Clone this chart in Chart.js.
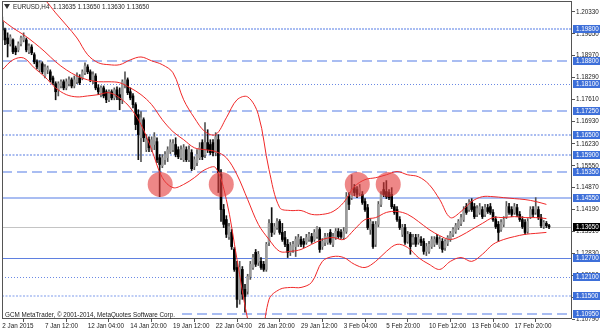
<!DOCTYPE html>
<html><head><meta charset="utf-8">
<script src="https://cdn.jsdelivr.net/npm/chart.js@4.4.1/dist/chart.umd.min.js"></script>
<style>html,body{margin:0;padding:0;background:#fff;overflow:hidden}canvas{display:block}</style>
</head><body>
<canvas id="c" width="600" height="333"></canvas>
<script>
// ---------------- DATA ----------------
const symbolTitle = 'EURUSD,H4';
const titleQuotes = ['1.13635', '1.13650', '1.13630', '1.13650'];
const watermark = 'GCM MetaTrader, \u00A9 2001-2014, MetaQuotes Software Corp.';

const timeLabels = ['2 Jan 2015','7 Jan 12:00','12 Jan 04:00','14 Jan 20:00','19 Jan 12:00','22 Jan 04:00','26 Jan 20:00','29 Jan 12:00','3 Feb 04:00','5 Feb 20:00','10 Feb 12:00','13 Feb 04:00','17 Feb 20:00'];
const timeLabelBars = [0,16,32,48,64,80,96,112,128,144,160,176,192];

const priceTicks = [1.2033,1.1965,1.1897,1.1829,1.1761,1.1693,1.1623,1.1555,1.1487,1.1419,1.1351,1.1283,1.1215,1.1147,1.1079];

const levels = [1.1980,1.1880,1.1810,1.1725,1.1650,1.1590,1.1535,1.1455,1.1270,1.1210,1.1150,1.1095];
const lastPrice = 1.1365;

const opens = [1.2002,1.1977,1.1952,1.1934,1.1946,1.1921,1.1915,1.1934,1.1946,1.1946,
1.1909,1.1924,1.1900,1.1878,1.1853,1.1872,1.1834,1.1853,1.1847,1.1828,
1.1810,1.1791,1.1803,1.1816,1.1797,1.1810,1.1822,1.1803,1.1816,1.1828,
1.1828,1.1844,1.1862,1.1847,1.1822,1.1834,1.1797,1.1776,1.1797,1.1785,
1.1760,1.1785,1.1766,1.1791,1.1776,1.1760,1.1807,1.1822,1.1785,1.1772,
1.1745,1.1714,1.1642,1.1698,1.1605,1.1636,1.1605,1.1621,1.1630,1.1580,
1.1555,1.1574,1.1580,1.1599,1.1605,1.1621,1.1605,1.1580,1.1574,1.1605,
1.1574,1.1596,1.1552,1.1565,1.1580,1.1627,1.1590,1.1627,1.1621,1.1627,
1.1596,1.1636,1.1528,1.1419,1.1388,1.1335,1.1348,1.1295,1.1239,1.1140,
1.1233,1.1171,1.1165,1.1211,1.1239,1.1286,1.1255,1.1258,1.1249,1.1233,
1.1317,1.1376,1.1348,1.1363,1.1382,1.1348,1.1332,1.1311,1.1286,1.1295,
1.1304,1.1311,1.1326,1.1320,1.1317,1.1326,1.1335,1.1326,1.1335,1.1357,
1.1304,1.1317,1.1317,1.1348,1.1311,1.1332,1.1351,1.1348,1.1332,1.1351,
1.1459,1.1456,1.1487,1.1481,1.1472,1.1466,1.1444,1.1425,1.1357,1.1373,
1.1311,1.1373,1.1435,1.1481,1.1475,1.1472,1.1466,1.1428,1.1419,1.1388,
1.1342,1.1363,1.1320,1.1342,1.1317,1.1332,1.1317,1.1326,1.1320,1.1289,
1.1289,1.1304,1.1311,1.1332,1.1304,1.1320,1.1301,1.1314,1.1326,1.1342,
1.1351,1.1363,1.1376,1.1388,1.1428,1.1419,1.1444,1.1428,1.1404,1.1410,
1.1419,1.1404,1.1425,1.1428,1.1410,1.1388,1.1373,1.1357,1.1373,1.1397,
1.1428,1.1419,1.1410,1.1425,1.1404,1.1388,1.1379,1.1351,1.1397,1.1419,
1.1410,1.1419,1.1394,1.1366,1.1376,1.1369];

const highs = [1.2017,1.1983,1.1968,1.1962,1.1949,1.1927,1.1940,1.1958,1.1968,1.1952,
1.1934,1.1931,1.1906,1.1884,1.1881,1.1878,1.1869,1.1865,1.1853,1.1834,
1.1816,1.1816,1.1822,1.1822,1.1825,1.1831,1.1828,1.1834,1.1844,1.1838,
1.1853,1.1875,1.1869,1.1853,1.1847,1.1841,1.1807,1.1803,1.1803,1.1791,
1.1791,1.1791,1.1797,1.1800,1.1797,1.1822,1.1847,1.1828,1.1797,1.1779,
1.1751,1.1729,1.1723,1.1704,1.1652,1.1645,1.1645,1.1658,1.1642,1.1590,
1.1590,1.1599,1.1614,1.1636,1.1636,1.1642,1.1614,1.1617,1.1621,1.1614,
1.1617,1.1605,1.1583,1.1605,1.1627,1.1636,1.1689,1.1667,1.1636,1.1636,
1.1658,1.1652,1.1543,1.1435,1.1400,1.1376,1.1357,1.1301,1.1258,1.1258,
1.1242,1.1187,1.1218,1.1258,1.1280,1.1295,1.1289,1.1270,1.1258,1.1317,
1.1388,1.1425,1.1376,1.1391,1.1388,1.1376,1.1351,1.1326,1.1317,1.1320,
1.1335,1.1342,1.1335,1.1329,1.1342,1.1348,1.1345,1.1357,1.1366,1.1363,
1.1329,1.1345,1.1345,1.1357,1.1345,1.1360,1.1360,1.1357,1.1363,1.1472,
1.1472,1.1527,1.1497,1.1490,1.1497,1.1475,1.1453,1.1435,1.1391,1.1382,
1.1382,1.1444,1.1475,1.1503,1.1509,1.1481,1.1487,1.1435,1.1428,1.1397,
1.1373,1.1373,1.1351,1.1348,1.1342,1.1342,1.1342,1.1335,1.1329,1.1314,
1.1320,1.1335,1.1335,1.1342,1.1335,1.1329,1.1326,1.1338,1.1351,1.1363,
1.1376,1.1388,1.1404,1.1428,1.1438,1.1450,1.1453,1.1438,1.1431,1.1438,
1.1428,1.1435,1.1435,1.1438,1.1419,1.1397,1.1382,1.1388,1.1397,1.1444,
1.1438,1.1428,1.1438,1.1435,1.1413,1.1397,1.1388,1.1391,1.1428,1.1428,
1.1456,1.1428,1.1404,1.1385,1.1382,1.1373];

const lows = [1.1962,1.1931,1.1893,1.1927,1.1903,1.1900,1.1909,1.1927,1.1940,1.1909,
1.1903,1.1900,1.1872,1.1856,1.1847,1.1841,1.1828,1.1841,1.1816,1.1807,
1.1760,1.1772,1.1797,1.1791,1.1791,1.1803,1.1797,1.1797,1.1810,1.1807,
1.1822,1.1838,1.1841,1.1816,1.1810,1.1791,1.1776,1.1769,1.1766,1.1751,
1.1754,1.1760,1.1760,1.1760,1.1729,1.1748,1.1797,1.1776,1.1760,1.1735,
1.1667,1.1574,1.1568,1.1630,1.1599,1.1599,1.1599,1.1605,1.1565,1.1459,
1.1549,1.1559,1.1568,1.1593,1.1599,1.1583,1.1577,1.1574,1.1568,1.1568,
1.1568,1.1540,1.1543,1.1555,1.1574,1.1574,1.1580,1.1596,1.1590,1.1586,
1.1586,1.1472,1.1382,1.1363,1.1332,1.1326,1.1295,1.1227,1.1115,1.1125,
1.1140,1.1100,1.1156,1.1202,1.1233,1.1242,1.1245,1.1233,1.1227,1.1227,
1.1307,1.1335,1.1342,1.1357,1.1342,1.1320,1.1304,1.1270,1.1276,1.1286,
1.1273,1.1304,1.1304,1.1301,1.1311,1.1320,1.1314,1.1320,1.1329,1.1286,
1.1295,1.1307,1.1311,1.1311,1.1304,1.1326,1.1329,1.1329,1.1326,1.1345,
1.1419,1.1450,1.1462,1.1456,1.1462,1.1435,1.1413,1.1357,1.1342,1.1298,
1.1304,1.1366,1.1428,1.1459,1.1453,1.1450,1.1422,1.1404,1.1382,1.1357,
1.1335,1.1311,1.1314,1.1280,1.1311,1.1304,1.1311,1.1307,1.1280,1.1276,
1.1283,1.1298,1.1304,1.1311,1.1298,1.1286,1.1292,1.1307,1.1320,1.1335,
1.1345,1.1357,1.1369,1.1382,1.1404,1.1413,1.1413,1.1391,1.1397,1.1404,
1.1391,1.1397,1.1407,1.1404,1.1382,1.1360,1.1320,1.1351,1.1366,1.1391,
1.1404,1.1397,1.1404,1.1397,1.1382,1.1360,1.1342,1.1345,1.1391,1.1397,
1.1404,1.1388,1.1363,1.1360,1.1363,1.1360];

const closes = [1.1977,1.1946,1.1934,1.1955,1.1909,1.1909,1.1934,1.1952,1.1955,1.1915,
1.1927,1.1906,1.1878,1.1862,1.1875,1.1847,1.1862,1.1859,1.1822,1.1813,
1.1785,1.1810,1.1816,1.1797,1.1816,1.1822,1.1803,1.1822,1.1831,1.1813,
1.1847,1.1865,1.1847,1.1822,1.1838,1.1797,1.1785,1.1797,1.1772,1.1760,
1.1785,1.1766,1.1791,1.1769,1.1760,1.1816,1.1822,1.1782,1.1766,1.1745,
1.1683,1.1652,1.1704,1.1642,1.1636,1.1611,1.1636,1.1645,1.1574,1.1559,
1.1580,1.1590,1.1605,1.1627,1.1624,1.1590,1.1583,1.1605,1.1611,1.1574,
1.1605,1.1546,1.1574,1.1590,1.1611,1.1583,1.1627,1.1605,1.1596,1.1596,
1.1645,1.1534,1.1419,1.1373,1.1342,1.1366,1.1304,1.1233,1.1140,1.1239,
1.1156,1.1149,1.1211,1.1249,1.1270,1.1249,1.1280,1.1239,1.1233,1.1311,
1.1376,1.1348,1.1366,1.1382,1.1348,1.1326,1.1311,1.1286,1.1307,1.1311,
1.1326,1.1332,1.1311,1.1311,1.1332,1.1342,1.1320,1.1348,1.1363,1.1295,
1.1320,1.1335,1.1335,1.1317,1.1335,1.1351,1.1335,1.1335,1.1351,1.1459,
1.1435,1.1481,1.1472,1.1466,1.1487,1.1441,1.1419,1.1363,1.1382,1.1304,
1.1373,1.1435,1.1466,1.1466,1.1459,1.1456,1.1428,1.1410,1.1388,1.1363,
1.1363,1.1317,1.1342,1.1304,1.1332,1.1311,1.1332,1.1317,1.1289,1.1304,
1.1311,1.1326,1.1326,1.1317,1.1326,1.1295,1.1320,1.1332,1.1345,1.1357,
1.1369,1.1382,1.1394,1.1419,1.1410,1.1441,1.1419,1.1397,1.1422,1.1428,
1.1397,1.1425,1.1413,1.1410,1.1388,1.1366,1.1348,1.1379,1.1388,1.1428,
1.1410,1.1404,1.1428,1.1404,1.1388,1.1366,1.1348,1.1382,1.1419,1.1404,
1.1428,1.1394,1.1369,1.1379,1.1369,1.1365];

// Bollinger bands read at every 4th bar
const bandBars = [0,4,8,12,16,20,24,28,32,36,40,44,48,52,56,60,64,68,72,76,80,84,88,92,96,100,104,108,112,116,120,124,128,132,136,140,144,148,152,156,160,164,168,172,176,180,184,188,192,196,200,204];
const bandUpper = [1.2194,1.2163,1.2126,1.2095,1.2070,1.2030,1.1992,1.1952,1.1900,1.1875,1.1869,1.1869,1.1884,1.1893,1.1881,1.1869,1.1844,1.1760,1.1704,1.1661,1.1652,1.1704,1.1760,1.1769,1.1714,1.1543,1.1425,1.1416,1.1416,1.1404,1.1404,1.1413,1.1441,1.1490,1.1512,1.1518,1.1527,1.1537,1.1527,1.1521,1.1497,1.1450,1.1394,1.1413,1.1444,1.1459,1.1459,1.1456,1.1453,1.1450,1.1444,1.1435];
const bandMiddle = [1.2008,1.1983,1.1962,1.1937,1.1909,1.1878,1.1853,1.1834,1.1822,1.1816,1.1816,1.1813,1.1797,1.1776,1.1745,1.1698,1.1661,1.1636,1.1611,1.1605,1.1599,1.1580,1.1527,1.1450,1.1373,1.1326,1.1289,1.1289,1.1295,1.1311,1.1326,1.1332,1.1326,1.1357,1.1388,1.1394,1.1410,1.1413,1.1404,1.1382,1.1357,1.1338,1.1326,1.1338,1.1357,1.1376,1.1394,1.1394,1.1397,1.1394,1.1394,1.1391];
const bandLower = [1.1853,1.1884,1.1890,1.1859,1.1831,1.1797,1.1776,1.1769,1.1772,1.1776,1.1782,1.1766,1.1735,1.1683,1.1605,1.1518,1.1487,1.1497,1.1518,1.1543,1.1549,1.1450,1.1264,1.1078,1.0954,1.1140,1.1171,1.1177,1.1177,1.1193,1.1258,1.1273,1.1270,1.1249,1.1239,1.1258,1.1289,1.1311,1.1301,1.1270,1.1249,1.1233,1.1258,1.1270,1.1258,1.1280,1.1311,1.1326,1.1335,1.1342,1.1345,1.1348];

// highlighted touches (circles)
const markBars = [59.2, 82.1, 133.1, 144.7];
const markPrices = [1.1497, 1.1497, 1.1497, 1.1497];

// ---------------- STYLE ----------------
const FONT = '"Liberation Sans", Arial, sans-serif';
const FS = 6.3;
const LIGHT = '#a9bdf2', MID = '#8da6ec', DARK = '#6a89e4';
const levelStyles = [
  {c: LIGHT, w: 2, d: [2, 1]},
  {c: LIGHT, w: 2, d: [10, 5]},
  {c: DARK, w: 1, d: [1, 2]},
  {c: LIGHT, w: 2, d: [10, 5]},
  {c: MID, w: 1.5, d: [2, 1.5]},
  {c: MID, w: 1.5, d: [2, 1.5]},
  {c: LIGHT, w: 2, d: [10, 5]},
  {c: LIGHT, w: 2, d: []},
  {c: '#5f80e0', w: 1, d: []},
  {c: DARK, w: 1, d: [1, 2]},
  {c: LIGHT, w: 1.5, d: [2, 1.5]},
  {c: LIGHT, w: 2, d: [10, 5]}
];

const levelPlugin = {
  id: 'levels',
  beforeDatasetsDraw(chart) {
    const {ctx, chartArea: a, scales: {y}} = chart;
    ctx.save();
    ctx.beginPath(); ctx.rect(a.left, a.top, a.right - a.left, a.bottom - a.top); ctx.clip();
    let py = Math.round(y.getPixelForValue(lastPrice)) + 0.5;
    ctx.strokeStyle = '#c4c4c4'; ctx.lineWidth = 1; ctx.setLineDash([]);
    ctx.beginPath(); ctx.moveTo(a.left, py); ctx.lineTo(a.right, py); ctx.stroke();
    levels.forEach((v, k) => {
      const s = levelStyles[k];
      let p = y.getPixelForValue(v);
      p = s.w % 2 === 1 ? Math.round(p) + 0.5 : Math.round(p);
      ctx.strokeStyle = s.c; ctx.lineWidth = s.w; ctx.setLineDash(s.d);
      ctx.beginPath(); ctx.moveTo(a.left, p); ctx.lineTo(a.right, p); ctx.stroke();
    });
    ctx.restore();
  },
  afterDraw(chart) {
    const {ctx, chartArea: a, scales: {y}} = chart;
    ctx.save();
    ctx.setLineDash([]);
    ctx.strokeStyle = '#555'; ctx.lineWidth = 1;
    ctx.strokeRect(Math.round(a.left) + 0.5, Math.round(a.top) + 0.5, Math.round(a.right - a.left) - 1, Math.round(a.bottom - a.top) - 1);
    ctx.font = FS + 'px ' + FONT;
    ctx.textBaseline = 'middle';
    const box = (v, bg) => {
      const p = Math.round(y.getPixelForValue(v));
      ctx.fillStyle = bg;
      ctx.fillRect(a.right + 1, p - 4, 600 - a.right - 1, 8);
      ctx.fillStyle = '#fff';
      ctx.textAlign = 'left';
      ctx.fillText(v.toFixed(5), a.right + 4, p + 0.5);
    };
    levels.forEach(v => box(v, '#3d6fd9'));
    box(lastPrice, '#000');
    ctx.fillStyle = '#333';
    ctx.beginPath(); ctx.moveTo(a.left + 2, 4); ctx.lineTo(a.left + 8, 4); ctx.lineTo(a.left + 5, 9); ctx.closePath(); ctx.fill();
    ctx.fillStyle = '#222';
    ctx.textAlign = 'left';
    ctx.fillText(symbolTitle + '  ' + titleQuotes.join(' '), a.left + 11, 7);
    const wm = watermark;
    const w = ctx.measureText(wm).width;
    ctx.fillStyle = '#fff';
    ctx.fillRect(a.left + 1, a.bottom - 8, w + 4, 7);
    ctx.fillStyle = '#222';
    ctx.fillText(wm, a.left + 3, a.bottom - 4);
    ctx.restore();
  }
};

// ---------------- CHART ----------------
const idx = opens.map((_, i) => i);
const bullC = '#9b9b9b', bearC = '#000';
const noPad = s => { s.paddingLeft = 0; s.paddingRight = 0; s.paddingTop = 0; s.paddingBottom = 0; };
new Chart(document.getElementById('c'), {
  type: 'bar',
  data: {
    datasets: [
      {type: 'line', data: markBars.map((b, k) => ({x: b, y: markPrices[k]})), showLine: false, clip: 0,
       pointRadius: 12.5, pointBackgroundColor: 'rgba(228,62,62,0.62)', pointBorderWidth: 0, order: 0},
      {type: 'line', data: bandBars.map((b, k) => ({x: b, y: bandUpper[k]})), borderColor: '#f02828', borderWidth: 1, pointRadius: 0, tension: 0.35, order: 1},
      {type: 'line', data: bandBars.map((b, k) => ({x: b, y: bandMiddle[k]})), borderColor: '#f02828', borderWidth: 1, pointRadius: 0, tension: 0.35, order: 1},
      {type: 'line', data: bandBars.map((b, k) => ({x: b, y: bandLower[k]})), borderColor: '#f02828', borderWidth: 1, pointRadius: 0, tension: 0.35, order: 1},
      {type: 'bar', data: idx.map(i => ({x: i, y: [opens[i], closes[i]]})), grouped: false, barThickness: 2, minBarLength: 1,
       backgroundColor: idx.map(i => closes[i] >= opens[i] ? bullC : bearC), borderWidth: 0, order: 2},
      {type: 'bar', data: idx.map(i => ({x: i, y: [lows[i], highs[i]]})), grouped: false, barThickness: 1,
       backgroundColor: idx.map(i => closes[i] >= opens[i] ? '#555' : '#111'), borderWidth: 0, order: 3}
    ]
  },
  options: {
    responsive: false, animation: false, devicePixelRatio: 1, events: [],
    layout: {autoPadding: false, padding: {left: 2, top: 1, right: 0, bottom: 0}},
    plugins: {legend: {display: false}, tooltip: {enabled: false}},
    scales: {
      x: {
        type: 'linear', min: -0.11, max: 213.6, offset: false,
        border: {display: false},
        grid: {drawOnChartArea: false, drawTicks: true, tickLength: 3, color: '#555'},
        afterBuildTicks: s => { s.ticks = timeLabelBars.map(v => ({value: v})); },
        afterFit: s => { s.height = 14; noPad(s); },
        ticks: {autoSkip: false, maxRotation: 0, minRotation: 0, align: 'start', padding: 0,
                font: {family: FONT, size: FS}, color: '#222',
                callback: (v, i) => timeLabels[i]}
      },
      y: {
        type: 'linear', position: 'right', min: 1.10790, max: 1.20669,
        border: {display: false},
        grid: {drawOnChartArea: false, drawTicks: true, tickLength: 3, color: '#555'},
        afterBuildTicks: s => { s.ticks = priceTicks.map(v => ({value: v})); },
        afterFit: s => { s.width = 28; noPad(s); },
        ticks: {autoSkip: false, padding: 1, font: {family: FONT, size: FS}, color: '#222',
                callback: v => v.toFixed(5)}
      }
    }
  },
  plugins: [levelPlugin]
});
</script>
</body></html>
